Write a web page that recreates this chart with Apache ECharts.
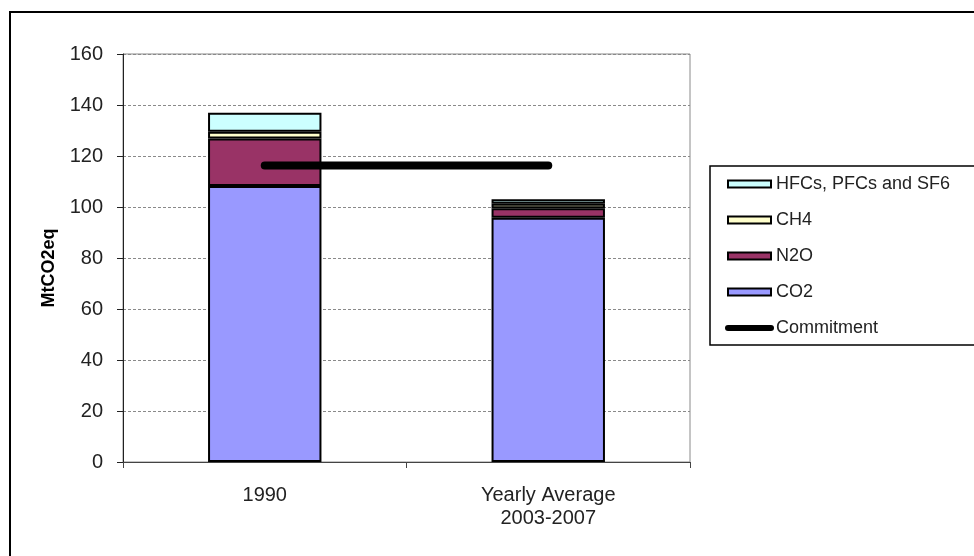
<!DOCTYPE html>
<html>
<head>
<meta charset="utf-8">
<script src="https://cdn.jsdelivr.net/npm/echarts@6/dist/echarts.min.js"></script>
<style>
html,body{margin:0;padding:0;background:#fff;}
#chart{width:974px;height:556px;}
</style>
</head>
<body>
<div id="chart"></div>
<script>
const categories = ['1990', 'Yearly Average\n2003-2007'];
const co2 = [108.2, 95.8];
const n2o = [18.7, 3.7];
const ch4 = [2.6, 1.8];
const hfcs = [7.5, 1.7];
const commitment = [116.3, 116.3];
const yTicks = [0, 20, 40, 60, 80, 100, 120, 140, 160];
const legendOrder = ['HFCs, PFCs and SF6', 'CH4', 'N2O', 'CO2', 'Commitment'];

const FONT = 'Liberation Sans, Arial, sans-serif';
const chart = echarts.init(document.getElementById('chart'), null, {renderer: 'canvas'});

function barSeries(name, data, color) {
  return {
    name: name, type: 'bar', stack: 'total', data: data, barWidth: '40%',
    itemStyle: {color: color, borderColor: '#000', borderWidth: 2},
    emphasis: {disabled: true}
  };
}

chart.setOption({
  animation: false,
  backgroundColor: '#fff',
  textStyle: {fontFamily: FONT},
  grid: {left: 123, right: 284, top: 54, bottom: 94, show: true, borderColor: '#8a8a8a', borderWidth: 1, containLabel: false},
  legend: {
    orient: 'vertical', left: 725, top: 175, padding: 0, itemGap: 18, itemWidth: 43, itemHeight: 7,
    textStyle: {fontFamily: FONT, fontSize: 18, color: '#222', lineHeight: 18},
    data: [
      {name: legendOrder[0], icon: 'rect'},
      {name: legendOrder[1], icon: 'rect'},
      {name: legendOrder[2], icon: 'rect'},
      {name: legendOrder[3], icon: 'rect'},
      {name: legendOrder[4], lineStyle: {width: 6, cap: 'round'}}
    ],
    selectedMode: false
  },
  xAxis: {
    type: 'category', data: categories, boundaryGap: true,
    axisLine: {lineStyle: {color: '#444', width: 1}},
    axisTick: {show: true, length: 6, lineStyle: {color: '#444'}},
    axisLabel: {fontFamily: FONT, fontSize: 20, color: '#222', margin: 22, lineHeight: 23}
  },
  yAxis: {
    type: 'value', min: yTicks[0], max: yTicks[yTicks.length - 1], interval: 20,
    name: 'MtCO2eq', nameLocation: 'middle', nameGap: 65,
    nameTextStyle: {fontFamily: FONT, fontSize: 18, fontWeight: 'bold', color: '#000', padding: [0, 20, 0, 0]},
    axisLine: {show: true, lineStyle: {color: '#222', width: 1}},
    axisTick: {show: true, length: 6, lineStyle: {color: '#222'}},
    axisLabel: {fontFamily: FONT, fontSize: 20, color: '#222', margin: 20},
    splitLine: {show: true, lineStyle: {color: '#8a8a8a', type: [3, 2], width: 1}}
  },
  series: [
    barSeries('CO2', co2, '#9999ff'),
    barSeries('N2O', n2o, '#993366'),
    barSeries('CH4', ch4, '#ffffcc'),
    barSeries('HFCs, PFCs and SF6', hfcs, '#ccffff'),
    {
      name: 'Commitment', type: 'line', data: commitment, symbol: 'none', z: 10,
      lineStyle: {color: '#000', width: 8, cap: 'round'},
      itemStyle: {color: '#000'},
      emphasis: {disabled: true}
    }
  ],
  graphic: [
    {type: 'rect', z: -1, silent: true, shape: {x: 10, y: 12, width: 1000, height: 600},
     style: {fill: null, stroke: '#000', lineWidth: 2}},
    {type: 'rect', z: -1, silent: true, shape: {x: 710, y: 166, width: 300, height: 179},
     style: {fill: null, stroke: '#000', lineWidth: 1.5}}
  ]
});
</script>
</body>
</html>
